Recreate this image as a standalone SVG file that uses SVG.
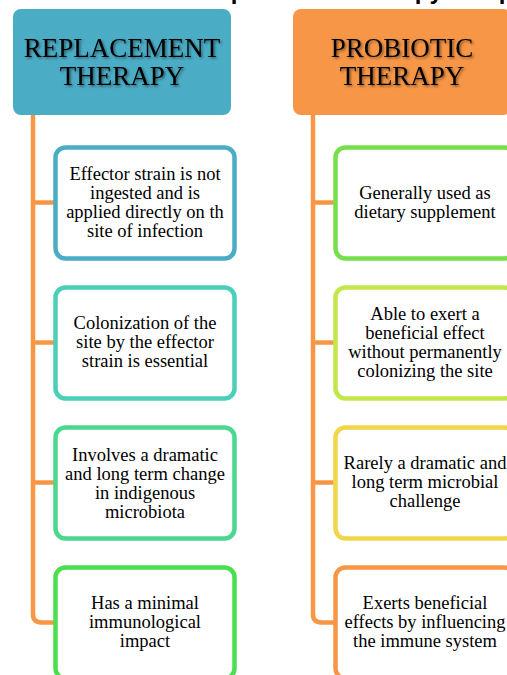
<svg xmlns="http://www.w3.org/2000/svg" width="507" height="675" viewBox="0 0 507 675">
<defs>
<style>
.title{font-family:"Liberation Sans",Arial,sans-serif;font-weight:bold;font-size:24px;fill:#000}
.hdr{font-family:"Liberation Serif","Times New Roman",serif;font-size:27px;fill:#000;text-anchor:middle}
.box{fill:#fff;stroke-width:4.5}
.txt{font-family:"Liberation Serif","Times New Roman",serif;font-size:18.5px;fill:#000;text-anchor:middle}
.con{fill:none;stroke:#F79646;stroke-width:4.5;stroke-linejoin:round}
</style>
<filter id="sh" x="-10%" y="-30%" width="120%" height="160%">
<feDropShadow dx="1.5" dy="1.5" stdDeviation="1" flood-color="#000" flood-opacity="0.45"/>
</filter>
</defs>
<rect width="507" height="675" fill="#fff"/>
<text class="title" x="-32" y="-1">Differences between replacement therapy and probiotic therapy</text>

<g id="connectors">
<path class="con" d="M33 115 V614 Q33 622.5 41.5 622.5 H55"/>
<path class="con" d="M33 202.5 H55 M33 342.5 H55 M33 482.5 H55"/>
<path class="con" d="M313 115 V614 Q313 622.5 321.5 622.5 H335"/>
<path class="con" d="M313 202.5 H335 M313 342.5 H335 M313 482.5 H335"/>
</g>

<g id="hdr-replacement">
<rect x="13" y="9" width="218" height="106" rx="8" fill="#4BACC6"/>
<text class="hdr" x="122" y="57" filter="url(#sh)">REPLACEMENT</text>
<text class="hdr" x="122" y="85" filter="url(#sh)">THERAPY</text>
</g>
<g id="hdr-probiotic">
<rect x="293" y="9" width="218" height="106" rx="8" fill="#F79646"/>
<text class="hdr" x="402" y="57" filter="url(#sh)">PROBIOTIC</text>
<text class="hdr" x="402" y="85" filter="url(#sh)">THERAPY</text>
</g>

<g id="l1">
<rect class="box" x="55.5" y="147.5" width="179" height="111" rx="10" stroke="#4BACC6"/>
<text class="txt" x="145" y="179.5">Effector strain is not</text>
<text class="txt" x="145" y="198.5">ingested and is</text>
<text class="txt" x="145" y="217.5">applied directly on th</text>
<text class="txt" x="145" y="236.5">site of infection</text>
</g>
<g id="l2">
<rect class="box" x="55.5" y="287.5" width="179" height="111" rx="10" stroke="#4BCFB8"/>
<text class="txt" x="145" y="328.5">Colonization of the</text>
<text class="txt" x="145" y="347.5">site by the effector</text>
<text class="txt" x="145" y="366.5">strain is essential</text>
</g>
<g id="l3">
<rect class="box" x="55.5" y="427.5" width="179" height="111" rx="10" stroke="#4BD88E"/>
<text class="txt" x="145" y="460.5">Involves a dramatic</text>
<text class="txt" x="145" y="479.5">and long term change</text>
<text class="txt" x="145" y="498.5">in indigenous</text>
<text class="txt" x="145" y="517.5">microbiota</text>
</g>
<g id="l4">
<rect class="box" x="55.5" y="567.5" width="179" height="111" rx="10" stroke="#4BDE4E"/>
<text class="txt" x="145" y="608.5">Has a minimal</text>
<text class="txt" x="145" y="627.5">immunological</text>
<text class="txt" x="145" y="646.5">impact</text>
</g>

<g id="r1">
<rect class="box" x="335.5" y="147.5" width="179" height="111" rx="10" stroke="#76E04A"/>
<text class="txt" x="425" y="198.5">Generally used as</text>
<text class="txt" x="425" y="217.5">dietary supplement</text>
</g>
<g id="r2">
<rect class="box" x="335.5" y="287.5" width="179" height="111" rx="10" stroke="#C3E74A"/>
<text class="txt" x="425" y="319.5">Able to exert a</text>
<text class="txt" x="425" y="338.5">beneficial effect</text>
<text class="txt" x="425" y="357.5">without permanently</text>
<text class="txt" x="425" y="376.5">colonizing the site</text>
</g>
<g id="r3">
<rect class="box" x="335.5" y="427.5" width="179" height="111" rx="10" stroke="#F2D64A"/>
<text class="txt" x="425" y="468.5">Rarely a dramatic and</text>
<text class="txt" x="425" y="487.5">long term microbial</text>
<text class="txt" x="425" y="506.5">challenge</text>
</g>
<g id="r4">
<rect class="box" x="335.5" y="567.5" width="179" height="111" rx="10" stroke="#F79646"/>
<text class="txt" x="425" y="608.5">Exerts beneficial</text>
<text class="txt" x="425" y="627.5">effects by influencing</text>
<text class="txt" x="425" y="646.5">the immune system</text>
</g>
</svg>
